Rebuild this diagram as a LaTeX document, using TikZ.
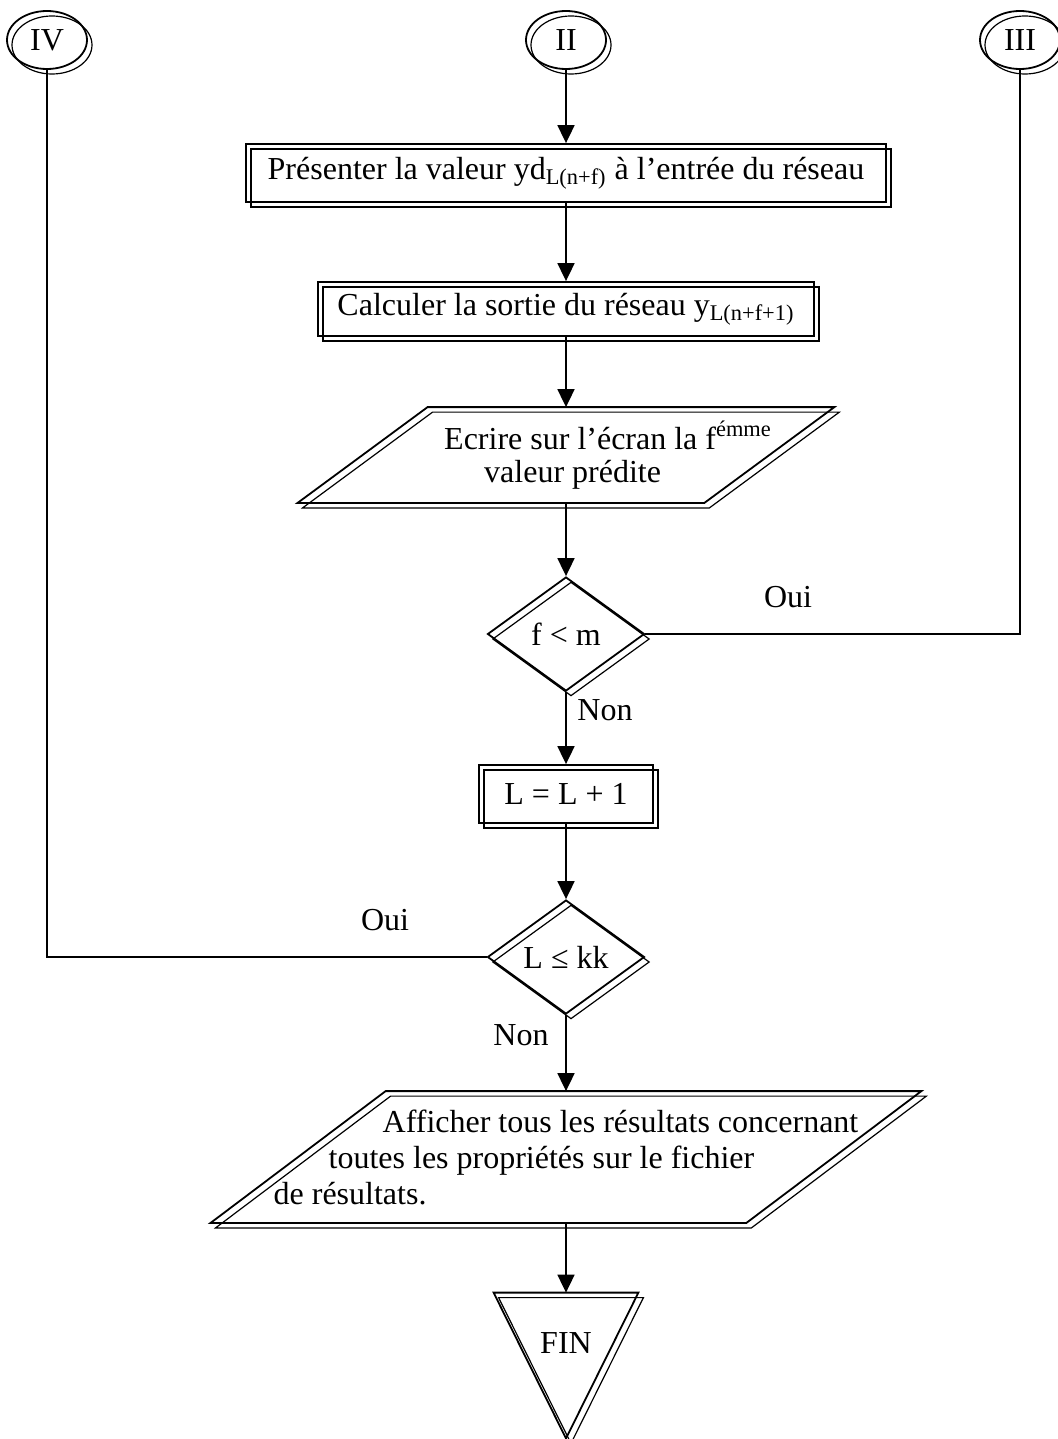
\documentclass[tikz,border=0pt]{standalone}
\usepackage{fontspec}
\setmainfont{Liberation Serif}
\usetikzlibrary{arrows.meta,shapes.geometric}
\tikzset{
  flow-font/.style={font=\fontsize{16}{18}\selectfont},
  flow-outline/.style={draw=black, line width=0.9pt,
    preaction={draw=black, line width=0.6pt, transform canvas={shift={(2.5pt,-2.5pt)}}}},
  flow-shape/.style={flow-outline, inner sep=0pt, flow-font},
  flow-box/.style={flow-shape, rectangle},
  flow-area/.style={rectangle, inner sep=0pt, flow-font},
  flow-test/.style={flow-shape, diamond, minimum width=78.5pt, minimum height=57pt, aspect=1.38},
  flow-link/.style={flow-shape, ellipse, minimum width=40pt, minimum height=29pt},
  flow-label/.style={flow-font, inner sep=0pt},
  flow-arrow/.style={-{Triangle[length=9pt, width=8.5pt]}, line width=0.9pt},
  flow-line/.style={line width=0.9pt}
}

\begin{document}
\begin{tikzpicture}[x=0.5pt, y=-0.5pt]
  \useasboundingbox (0,0) rectangle (1058,1439);

  % Connectors at the top
  \node[flow-link] (iv) at (47,40) {IV};
  \node[flow-link] (ii) at (566,40) {II};
  \node[flow-link] (iii) at (1020,40) {III};

  % Network input and output
  \node[flow-box, minimum width=320pt, minimum height=29pt] (presenter) at (566,173)
    {Présenter la valeur yd\textsubscript{L(n+f)} à l’entrée du réseau};
  \node[flow-box, minimum width=248pt, minimum height=27pt] (calcul) at (566,309)
    {Calculer la sortie du réseau y\textsubscript{L(n+f+1)}};

  % Display of the predicted value (parallelogram drawn on the node corners)
  \node[flow-area, minimum width=268pt, minimum height=47.5pt, align=left,
        font=\fontsize{16}{16.5}\selectfont] (ecrire) at (566,455)
    {\hspace*{42pt}Ecrire sur l’écran la f\textsuperscript{émme}\\
     \hspace*{62pt}valeur prédite};
  \draw[flow-outline] ([xshift=65pt]ecrire.north west) -- (ecrire.north east)
    -- ([xshift=-65pt]ecrire.south east) -- (ecrire.south west) -- cycle;

  % Tests
  \node[flow-test] (fm) at (566,634) {f < m};
  \node[flow-box, minimum width=87pt, minimum height=29pt] (incr) at (566,794) {L = L + 1};
  \node[flow-test] (kk) at (566,957) {L ≤ kk};

  % Branch labels
  \node[flow-label] (oui-fm) at (788,597) {Oui};
  \node[flow-label] (non-fm) at (605,710) {Non};
  \node[flow-label] (oui-kk) at (385,920) {Oui};
  \node[flow-label] (non-kk) at (521,1035) {Non};

  % Results
  \node[flow-area, minimum width=355pt, minimum height=65.5pt, align=left] (afficher) at (566,1157)
    {\hspace*{54.5pt}Afficher tous les résultats concernant\\
     \hspace*{27.5pt}toutes les propriétés sur le fichier\\
     de résultats.};
  \draw[flow-outline] ([xshift=87.5pt]afficher.north west) -- (afficher.north east)
    -- ([xshift=-87.5pt]afficher.south east) -- (afficher.south west) -- cycle;

  % End
  \node[flow-area, minimum width=72pt, minimum height=72.5pt] (fin) at (566,1365.5) {};
  \draw[flow-outline] (fin.north west) -- (fin.north east) -- (fin.south) -- cycle;
  \node[flow-label] (fin-text) at (566,1343) {FIN};

  % Flow
  \draw[flow-arrow] (ii.south) -- (presenter.north);
  \draw[flow-arrow] (presenter.south) -- (calcul.north);
  \draw[flow-arrow] (calcul.south) -- (ecrire.north);
  \draw[flow-arrow] (ecrire.south) -- (fm.north);
  \draw[flow-arrow] (fm.south) -- (incr.north);
  \draw[flow-arrow] (incr.south) -- (kk.north);
  \draw[flow-arrow] (kk.south) -- (afficher.north);
  \draw[flow-arrow] (afficher.south) -- (fin.north);
  \draw[flow-line] (fm.east) -| (iii.south);
  \draw[flow-line] (kk.west) -| (iv.south);
\end{tikzpicture}
\end{document}
